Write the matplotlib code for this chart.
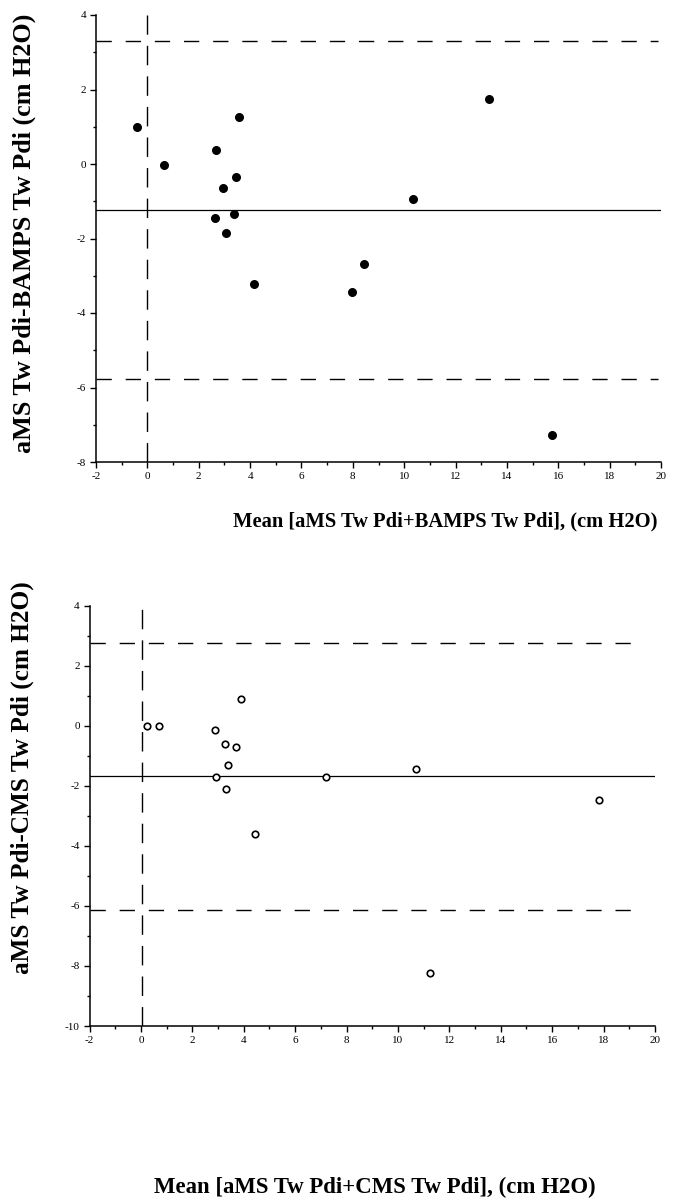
import matplotlib
matplotlib.use("Agg")
import matplotlib.pyplot as plt
from matplotlib.ticker import MultipleLocator

plt.rcParams["axes.unicode_minus"] = False

# Top panel: aMS vs BAMPS (filled circles)
top_mean = [-0.40, 0.65, 2.66, 3.56, 2.94, 3.45, 2.64, 3.38, 3.05, 4.17, 13.32, 10.35, 8.45, 7.95, 15.77]
top_diff = [1.00, -0.02, 0.38, 1.26, -0.64, -0.36, -1.46, -1.33, -1.86, -3.22, 1.74, -0.94, -2.68, -3.44, -7.27]
top_bias = -1.23
top_upper = 3.31
top_lower = -5.77

# Bottom panel: aMS vs CMS (open circles)
bot_mean = [0.25, 0.72, 2.88, 3.89, 3.27, 3.71, 3.38, 2.92, 3.30, 4.43, 7.20, 10.69, 17.81, 11.24]
bot_diff = [0.00, 0.00, -0.13, 0.89, -0.62, -0.70, -1.30, -1.70, -2.10, -3.60, -1.71, -1.44, -2.48, -8.24]
bot_bias = -1.66
bot_upper = 2.77
bot_lower = -6.12

top_xlabel = "Mean [aMS Tw Pdi+BAMPS Tw Pdi], (cm H2O)"
top_ylabel = "aMS Tw Pdi-BAMPS Tw Pdi (cm H2O)"
bot_xlabel = "Mean [aMS Tw Pdi+CMS Tw Pdi], (cm H2O)"
bot_ylabel = "aMS Tw Pdi-CMS Tw Pdi (cm H2O)"

FONT = "Liberation Serif"
W, H = 677, 1204
fig = plt.figure(figsize=(W / 100, H / 100), dpi=100)

dash = (0, (11, 10))

def style(ax, ylim, yticks):
    ax.set_xlim(-2, 20)
    ax.set_ylim(*ylim)
    ax.spines["top"].set_visible(False)
    ax.spines["right"].set_visible(False)
    for s in ("left", "bottom"):
        ax.spines[s].set_linewidth(1.1)
    ax.xaxis.set_major_locator(MultipleLocator(2))
    ax.xaxis.set_minor_locator(MultipleLocator(1))
    ax.set_yticks(yticks)
    ax.yaxis.set_minor_locator(MultipleLocator(1))
    ax.tick_params(which="major", direction="out", length=4, width=1, labelsize=8, pad=3)
    ax.tick_params(which="minor", direction="out", length=2, width=1)
    for lab in ax.get_xticklabels() + ax.get_yticklabels():
        lab.set_fontfamily(FONT)

# top
ax1 = fig.add_axes([96 / W, 1 - 462 / H, (661 - 96) / W, (462 - 15) / H])
style(ax1, (-8, 4), list(range(-8, 5, 2)))
ax1.axhline(top_bias, color="black", lw=0.9)
ax1.axhline(top_upper, xmax=0.995, color="black", lw=1.0, linestyle=dash)
ax1.axhline(top_lower, xmax=0.995, color="black", lw=1.0, linestyle=dash)
ax1.axvline(0, color="black", lw=1.0, linestyle=(0, (14, 8)))
ax1.scatter(top_mean, top_diff, s=30, color="black", zorder=3)

fig.text(445 / W, 1 - 521 / H, top_xlabel, ha="center", va="center",
         fontsize=14.8, fontweight="bold", family=FONT)
fig.text(24 / W, 1 - 233 / H, top_ylabel, ha="center", va="center", rotation=90,
         fontsize=18.8, fontweight="bold", family=FONT)

# bottom
ax2 = fig.add_axes([89.5 / W, 1 - 1026 / H, (655 - 89.5) / W, (1026 - 605.7) / H])
style(ax2, (-10, 4), list(range(-10, 5, 2)))
ax2.axhline(bot_bias, color="black", lw=0.9)
ax2.axhline(bot_upper, xmax=0.97, color="black", lw=1.0, linestyle=dash)
ax2.axhline(bot_lower, xmax=0.97, color="black", lw=1.0, linestyle=dash)
ax2.axvline(0.05, color="black", lw=1.0, linestyle=(0, (14, 8)))
ax2.scatter(bot_mean, bot_diff, s=22, facecolors="white", edgecolors="black", linewidths=1.2, zorder=3)

fig.text(375 / W, 1 - 1187 / H, bot_xlabel, ha="center", va="center",
         fontsize=16.4, fontweight="bold", family=FONT)
fig.text(22 / W, 1 - 778 / H, bot_ylabel, ha="center", va="center", rotation=90,
         fontsize=18.2, fontweight="bold", family=FONT)

fig.savefig("out.png", dpi=100)
